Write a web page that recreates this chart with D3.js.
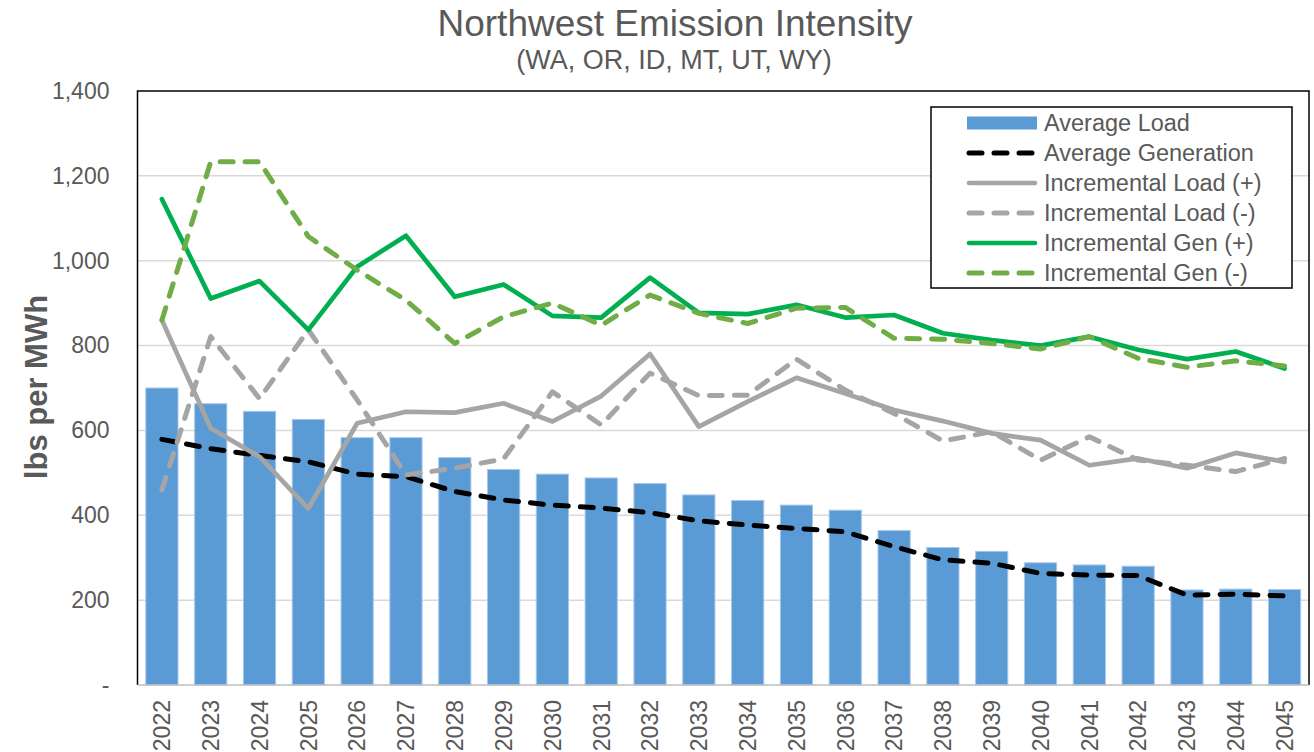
<!DOCTYPE html>
<html>
<head>
<meta charset="utf-8">
<script src="https://cdn.jsdelivr.net/npm/d3@7"></script>
<style>
  body { margin: 0; background: #fff; }
  text { font-family: "Liberation Sans", Arial, sans-serif; fill: #595959; }
</style>
</head>
<body>
<svg id="chart" width="1314" height="752"></svg>
<script>
var years = ["2022","2023","2024","2025","2026","2027","2028","2029","2030","2031","2032","2033",
  "2034","2035","2036","2037","2038","2039","2040","2041","2042","2043","2044","2045"];

var avgLoad = [700, 663, 645, 626, 583, 583, 536, 508, 497, 488, 475, 448, 435, 424, 412, 364, 324, 315, 288, 283, 280, 224, 226, 225];
var avgGen = [579, 557, 541, 526, 497, 491, 456, 436, 424, 417, 406, 387, 377, 369, 361, 326, 295, 287, 263, 259, 258, 212, 214, 210];
var incLoadPlus = [860, 605, 538, 416, 617, 644, 642, 664, 621, 681, 780, 609, 668, 724, 687, 648, 622, 593, 577, 518, 534, 511, 547, 526];
var incLoadMinus = [460, 821, 675, 837, 672, 495, 511, 533, 691, 613, 735, 682, 683, 768, 695, 640, 575, 597, 530, 585, 530, 518, 503, 534];
var incGenPlus = [1145, 911, 952, 837, 986, 1059, 915, 944, 870, 866, 960, 877, 874, 896, 866, 872, 829, 813, 800, 821, 790, 768, 786, 746];
var incGenMinus = [860, 1233, 1233, 1057, 978, 907, 805, 868, 900, 848, 919, 876, 852, 888, 890, 817, 815, 805, 792, 821, 770, 749, 764, 752];

var yTicks = [0, 200, 400, 600, 800, 1000, 1200, 1400];

var svg = d3.select("#chart");
var pLeft = 137.5, pRight = 1309, pTop = 91, pBottom = 685;

var x = d3.scaleBand().domain(years).range([pLeft, pRight]).paddingInner(0.34).paddingOuter(0.17);
var y = d3.scaleLinear().domain([0, 1400]).range([pBottom, pTop]);

// title
svg.append("text").attr("x", 675).attr("y", 36).attr("text-anchor", "middle")
  .style("font-size", "37px").text("Northwest Emission Intensity");
svg.append("text").attr("x", 674).attr("y", 69).attr("text-anchor", "middle")
  .style("font-size", "27px").text("(WA, OR, ID, MT, UT, WY)");

// gridlines
svg.append("g").selectAll("line").data(yTicks.slice(1, -1)).enter().append("line")
  .attr("x1", pLeft).attr("x2", pRight)
  .attr("y1", function(d) { return y(d); }).attr("y2", function(d) { return y(d); })
  .style("stroke", "#d9d9d9").style("stroke-width", 1.5);

// y axis
var yAxis = d3.axisLeft(y).tickValues(yTicks).tickSize(0).tickPadding(28)
  .tickFormat(function(d) { return d === 0 ? "-" : d3.format(",")(d); });
var ya = svg.append("g").attr("transform", "translate(" + pLeft + ",0)").call(yAxis);
ya.select(".domain").remove();
ya.selectAll("text").style("font-size", "23px").style("fill", "#595959")
  .style("font-family", "Liberation Sans, Arial, sans-serif");

svg.append("text").attr("transform", "translate(47,387) rotate(-90)").attr("text-anchor", "middle")
  .style("font-size", "31px").style("font-weight", "bold").text("lbs per MWh");

// x axis labels
var xAxis = d3.axisBottom(x).tickSize(0).tickPadding(0);
var xa = svg.append("g").attr("transform", "translate(0," + pBottom + ")").call(xAxis);
xa.select(".domain").remove();
xa.selectAll("text")
  .attr("transform", "rotate(-90)")
  .attr("x", -15).attr("y", 0).attr("dy", "0.36em")
  .attr("text-anchor", "end")
  .style("font-size", "23px").style("fill", "#595959")
  .style("font-family", "Liberation Sans, Arial, sans-serif");

// bars
svg.append("g").selectAll("rect").data(avgLoad).enter().append("rect")
  .attr("x", function(d, i) { return x(years[i]); })
  .attr("width", x.bandwidth())
  .attr("y", function(d) { return y(d); })
  .attr("height", function(d) { return pBottom - y(d); })
  .style("fill", "#5b9bd5").style("stroke", "#a8c8ea").style("stroke-width", 1);

// lines
var line = d3.line()
  .x(function(d, i) { return x(years[i]) + x.bandwidth() / 2; })
  .y(function(d) { return y(d); });

var series = [
  { name: "Average Generation", values: avgGen, color: "#000000", dash: "13,12", width: 5 },
  { name: "Incremental Load (+)", values: incLoadPlus, color: "#a5a5a5", dash: null, width: 4.7 },
  { name: "Incremental Load (-)", values: incLoadMinus, color: "#a5a5a5", dash: "13,12", width: 5 },
  { name: "Incremental Gen (+)", values: incGenPlus, color: "#00b050", dash: null, width: 4.7 },
  { name: "Incremental Gen (-)", values: incGenMinus, color: "#70ad47", dash: "13,12", width: 5 }
];

series.forEach(function(s) {
  svg.append("path").datum(s.values)
    .attr("d", line)
    .style("fill", "none")
    .style("stroke", s.color)
    .style("stroke-width", s.width)
    .style("stroke-linejoin", "round")
    .style("stroke-linecap", "round")
    .style("stroke-dasharray", s.dash);
});

// plot border + x axis line
svg.append("path")
  .attr("d", "M" + pLeft + "," + pBottom + "V" + pTop + "H" + pRight + "V" + pBottom)
  .style("fill", "none").style("stroke", "#000").style("stroke-width", 1.5);
svg.append("line").attr("x1", pLeft).attr("x2", pRight).attr("y1", pBottom).attr("y2", pBottom)
  .style("stroke", "#bfbfbf").style("stroke-width", 1.5);

// legend
var lg = svg.append("g");
lg.append("rect").attr("x", 931).attr("y", 107).attr("width", 361).attr("height", 181)
  .style("fill", "#fff").style("stroke", "#000").style("stroke-width", 1.5);

var rowY = function(i) { return 123 + i * 30; };
lg.append("rect").attr("x", 967).attr("y", rowY(0) - 6.5).attr("width", 70).attr("height", 13)
  .style("fill", "#5b9bd5");
lg.append("text").attr("x", 1044).attr("y", rowY(0)).attr("dy", "0.35em")
  .style("font-size", "23.5px").text("Average Load");

series.forEach(function(s, i) {
  var yy = rowY(i + 1);
  lg.append("line").attr("x1", 969).attr("x2", 1035).attr("y1", yy).attr("y2", yy)
    .style("stroke", s.color).style("stroke-width", s.width)
    .style("stroke-linecap", "round").style("stroke-dasharray", s.dash);
  lg.append("text").attr("x", 1044).attr("y", yy).attr("dy", "0.35em")
    .style("font-size", "23.5px").text(s.name);
});
</script>
</body>
</html>
